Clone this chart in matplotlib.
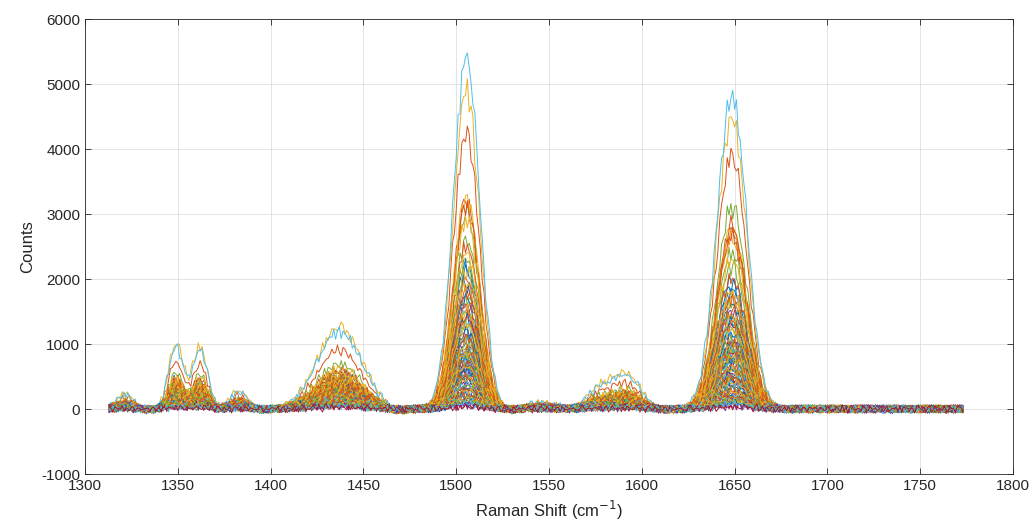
import numpy as np
import matplotlib
matplotlib.use('Agg')
import matplotlib.pyplot as plt

# Raman shift axis of the spectra (cm^-1)
shift = np.arange(1313.0, 1774.0, 1.0)

# height of the 1505 cm^-1 peak for every spectrum, in plot order (rows of 7)
peak_1505 = [
    900, 4250, 4900, 700, 3000, 5400, 600,
    2200, 3200, 3250, 1800, 2600, 1500, 1400,
    2100, 3100, 2900, 1600, 2300, 1300, 1200,
    1900, 2500, 2400, 1100, 1700, 1100, 1000,
    1700, 2000, 2100, 900, 1500, 1000, 800,
    1400, 1800, 1900, 800, 1300, 900, 700,
    1200, 1600, 1500, 650, 1100, 800, 600,
    1000, 1400, 1300, 550, 950, 700, 500,
    800, 1100, 1000, 450, 800, 600, 400,
    600, 900, 850, 350, 650, 500, 300,
    450, 700, 650, 250, 500, 380, 220,
    300, 500, 450, 150, 350, 250, 120,
    180, 300, 280, 80, 200, 150, 60,
    100, 200, 150, 40, 120, 80, 30,
]
# height of the 1648 cm^-1 peak
peak_1648 = [
    850, 3900, 4450, 600, 3100, 4800, 500,
    2000, 2700, 2750, 1700, 2400, 1400, 1300,
    1900, 2800, 2600, 1500, 2200, 1200, 1100,
    1800, 2650, 2300, 1000, 1600, 1150, 950,
    1600, 2000, 1800, 850, 1400, 900, 750,
    1350, 1700, 1700, 750, 1250, 1000, 650,
    1150, 1500, 1400, 600, 1050, 900, 550,
    950, 1300, 1200, 500, 900, 750, 450,
    750, 1000, 950, 420, 750, 650, 380,
    600, 850, 800, 330, 600, 520, 280,
    420, 650, 600, 240, 480, 400, 200,
    300, 480, 420, 150, 330, 260, 110,
    170, 280, 260, 80, 190, 160, 60,
    90, 180, 140, 40, 110, 80, 30,
]
# strength of the small bands (fraction of the strongest one)
minor_level = [
    0.45, 0.72, 1.00, 0.35, 0.55, 0.95, 0.30,
    0.38, 0.47, 0.50, 0.34, 0.41, 0.32, 0.30,
    0.36, 0.45, 0.44, 0.32, 0.38, 0.29, 0.27,
    0.33, 0.39, 0.38, 0.26, 0.33, 0.26, 0.24,
    0.30, 0.35, 0.35, 0.23, 0.30, 0.24, 0.21,
    0.27, 0.32, 0.32, 0.21, 0.27, 0.23, 0.19,
    0.25, 0.29, 0.27, 0.18, 0.24, 0.20, 0.17,
    0.23, 0.26, 0.25, 0.17, 0.22, 0.19, 0.15,
    0.20, 0.23, 0.21, 0.14, 0.20, 0.17, 0.13,
    0.17, 0.20, 0.19, 0.12, 0.17, 0.14, 0.11,
    0.14, 0.17, 0.16, 0.10, 0.14, 0.12, 0.08,
    0.11, 0.14, 0.12, 0.08, 0.11, 0.09, 0.06,
    0.08, 0.10, 0.09, 0.05, 0.08, 0.06, 0.04,
    0.05, 0.07, 0.06, 0.03, 0.05, 0.04, 0.02,
]

# small bands: centre, half width, height for the strongest spectrum
minor_centre = [1322, 1349, 1362, 1383, 1437, 1545, 1576, 1591, 1331, 1395, 1468, 1530, 1612]
minor_width = [5, 4, 4, 5, 12, 8, 6, 8, 4, 4, 4, 5, 5]
minor_height = [230, 1000, 950, 270, 1250, 100, 260, 540, -50, -45, -90, -55, -35]

ripple_a = [12, -25, 30, -8, -35, 18, 40, -15, -5, 28, -30, 10, 22, -40, 5,
            35, -20, -10, 25, -28, 15, 0, -18, 32, -12, 8, -33, 20, 38]
ripple_b = [-10, 18, -22, 6, 25, -14, -28, 9, 20, -5, -18, 27, -8, 14, -24,
            4, 21, -16, 11, -26, 16, -3, 24, -12, 7, -20, 13, 26, -9, -15, 19]

colors = ['#0072BD', '#D95319', '#EDB120', '#7E2F8E', '#77AC30', '#4DBEEE', '#A2142F']


def band(c, w):
    return np.exp(-0.5 * ((shift - c) / w) ** 2)


plt.rcParams['font.family'] = ['Liberation Sans', 'DejaVu Sans']
plt.rcParams['axes.unicode_minus'] = False
fig = plt.figure(figsize=(10.32, 5.31), dpi=100)
ax = fig.add_axes([0.0824, 0.1073, 0.8992, 0.8569])

na = np.resize(np.array(ripple_a, dtype=float), shift.size)
nb = np.resize(np.array(ripple_b, dtype=float), shift.size)
for i in range(len(peak_1505)):
    y = peak_1505[i] * band(1505.5, 7.0) + peak_1648[i] * band(1648.5, 8.0)
    for c, w, h in zip(minor_centre, minor_width, minor_height):
        y = y + minor_level[i] * h * band(c, w)
    y = y + (np.roll(na, 5 * i) + np.roll(nb, 3 * i)) * (1 + y / 1500)
    ax.plot(shift, y, color=colors[i % 7], lw=0.7)

ax.set_xlim(1300, 1800)
ax.set_ylim(-1000, 6000)
ax.set_xticks(np.arange(1300, 1801, 50))
ax.set_yticks(np.arange(-1000, 6001, 1000))
ax.grid(True, color='#dfdfdf', lw=0.6)
ax.set_axisbelow(True)
ax.tick_params(direction='in', length=4, width=0.6, top=True, right=True,
               labelsize=11, colors='#262626')
for s in ax.spines.values():
    s.set_color('#262626')
    s.set_linewidth(0.6)
ax.set_xlabel('Raman Shift (cm$^{-1}$)', fontsize=12, color='#262626')
ax.set_ylabel('Counts', fontsize=12, color='#262626')

fig.savefig('out.png', dpi=100)
